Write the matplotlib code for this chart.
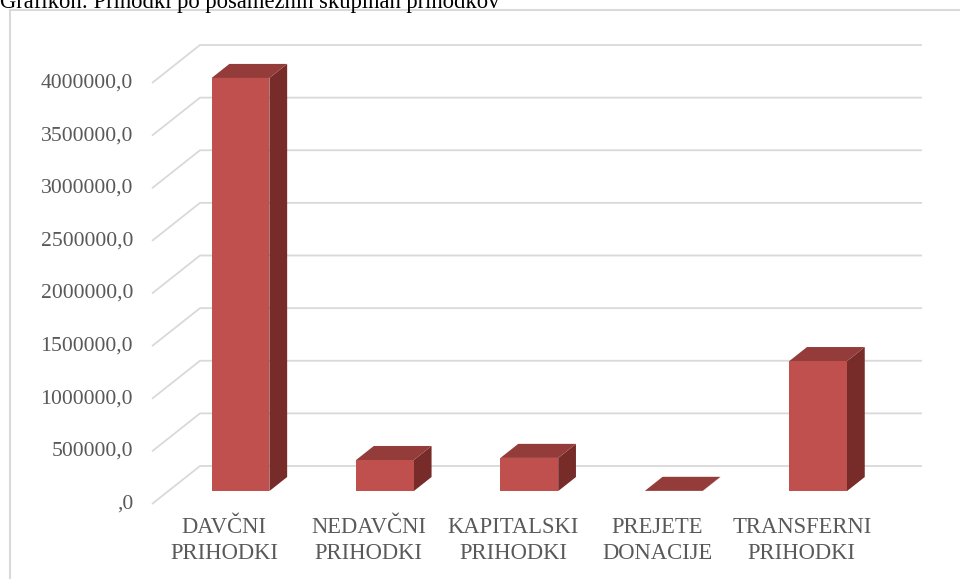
import matplotlib.pyplot as plt
from matplotlib.patches import Polygon, Rectangle

# data
categories = ['DAVČNI\nPRIHODKI', 'NEDAVČNI\nPRIHODKI', 'KAPITALSKI\nPRIHODKI',
              'PREJETE\nDONACIJE', 'TRANSFERNI\nPRIHODKI']
values = [3925000, 295000, 315000, 2000, 1235000]
y_ticks = [0, 500000, 1000000, 1500000, 2000000, 2500000, 3000000, 3500000, 4000000]
y_tick_labels = [',0', '500000,0', '1000000,0', '1500000,0', '2000000,0',
                 '2500000,0', '3000000,0', '3500000,0', '4000000,0']
title = 'Grafikon: Prihodki po posameznih skupinah prihodkov'

FRONT = '#C0504D'
TOP = '#943C3A'
SIDE = '#772C2A'
GRID = '#D9D9D9'
TEXT = '#595959'
FONT = 'Liberation Serif'

W, H = 960, 579
fig = plt.figure(figsize=(W / 100, H / 100), dpi=100)
fig.patch.set_facecolor('white')

# chart border (right and bottom run off the picture)
fig.patches.append(Rectangle((10 / W, -0.05), 1.0, 1 - 10 / H + 0.05,
                             transform=fig.transFigure, fill=False,
                             edgecolor='#D9D9D9', linewidth=1.5))
fig.text(0.0, 1 - 8 / H, title, fontsize=16.3, family=FONT, color='black',
         ha='left', va='baseline')

# front plane of the floor: x 152..874 px, y 504 (0) .. 83 (4000000)
ax = fig.add_axes([152 / W, (H - 504) / H, (874 - 152) / W, (504 - 83) / H])
ax.set_xlim(0, len(categories))
ax.set_ylim(0, 4000000)
ax.axis('off')

# depth of the 3D box in data units
DX = 48 / ((874 - 152) / len(categories))
DY = 38 / ((504 - 83) / 4000000)
f0, f1 = 0.34, 0.71   # bar depth span as a fraction of the full depth
bw = 0.40

# back wall gridlines with the diagonal on the left side
for v in y_ticks:
    ax.plot([0, DX, len(categories) + DX], [v, v + DY, v + DY],
            color=GRID, lw=1.3, clip_on=False, zorder=1, solid_capstyle='butt')

for v, lab in zip(y_ticks, y_tick_labels):
    ax.text(-19 * DX / 48, v, lab, ha='right', va='center', fontsize=15.6,
            family=FONT, color=TEXT, clip_on=False)

for i, (cat, v) in enumerate(zip(categories, values)):
    x0 = i + 0.5 - bw / 2
    x1 = i + 0.5 + bw / 2
    a = (f0 * DX, f0 * DY)
    b = (f1 * DX, f1 * DY)
    side = [(x1 + a[0], a[1]), (x1 + b[0], b[1]),
            (x1 + b[0], v + b[1]), (x1 + a[0], v + a[1])]
    top = [(x0 + a[0], v + a[1]), (x1 + a[0], v + a[1]),
           (x1 + b[0], v + b[1]), (x0 + b[0], v + b[1])]
    front = [(x0 + a[0], a[1]), (x1 + a[0], a[1]),
             (x1 + a[0], v + a[1]), (x0 + a[0], v + a[1])]
    ax.add_patch(Polygon(side, closed=True, facecolor=SIDE, edgecolor='none',
                         clip_on=False, zorder=3))
    ax.add_patch(Polygon(top, closed=True, facecolor=TOP, edgecolor='none',
                         clip_on=False, zorder=3))
    ax.add_patch(Polygon(front, closed=True, facecolor=FRONT, edgecolor='none',
                         clip_on=False, zorder=4))
    ax.text(i + 0.5, -345000, cat, ha='center', va='center', fontsize=16.3,
            family=FONT, color=TEXT, linespacing=1.3, clip_on=False)

fig.savefig('out.png', dpi=100, facecolor='white')
